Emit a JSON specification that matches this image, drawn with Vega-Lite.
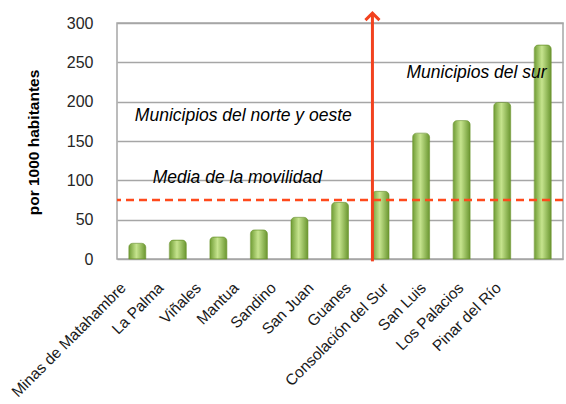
{
  "$schema": "https://vega.github.io/schema/vega-lite/v6.json",
  "width": 446,
  "height": 236,
  "autosize": {"type": "none"},
  "padding": {"left": 117, "top": 23, "right": 3, "bottom": 145},
  "background": "white",
  "config": {
    "view": {"stroke": "#a6a6a6", "strokeWidth": 1.5},
    "font": "Liberation Sans",
    "axisY": {
      "grid": true,
      "gridColor": "#a6a6a6",
      "gridWidth": 1.5,
      "domain": false,
      "ticks": false,
      "labelPadding": 24,
      "labelFontSize": 16,
      "labelColor": "#262626",
      "labelOverlap": false,
      "titleFontSize": 15.5,
      "titleFontWeight": "bold",
      "titleColor": "#000000",
      "titleX": -84,
      "titleY": 119,
      "titleAngle": -90,
      "titleAlign": "center",
      "titleBaseline": "middle"
    }
  },
  "datasets": {
    "movilidad": [
      {"municipio": "Minas de Matahambre", "valor": 20},
      {"municipio": "La Palma", "valor": 24},
      {"municipio": "Viñales", "valor": 28},
      {"municipio": "Mantua", "valor": 37},
      {"municipio": "Sandino", "valor": 53},
      {"municipio": "San Juan", "valor": 72},
      {"municipio": "Guanes", "valor": 86},
      {"municipio": "Consolación del Sur", "valor": 160},
      {"municipio": "San Luis", "valor": 176},
      {"municipio": "Los Palacios", "valor": 199},
      {"municipio": "Pinar del Río", "valor": 272}
    ],
    "media": [{"media": 75}]
  },
  "layer": [
    {
      "layer": [
        {
          "data": {"name": "movilidad"},
          "mark": {
            "type": "bar",
            "width": {"band": 0.42},
            "cornerRadiusEnd": 4,
            "stroke": "#6b962f",
            "strokeWidth": 0.6,
            "color": {
              "gradient": "linear",
              "x1": 0, "y1": 0, "x2": 1, "y2": 0,
              "stops": [
                {"offset": 0, "color": "#6f9c34"},
                {"offset": 0.45, "color": "#c6e48e"},
                {"offset": 1, "color": "#6a9630"}
              ]
            }
          },
          "encoding": {
            "x": {"field": "municipio", "type": "nominal", "sort": null, "scale": {"paddingInner": 0, "paddingOuter": 0}, "axis": null},
            "y": {
              "field": "valor",
              "type": "quantitative",
              "scale": {"domain": [0, 300]},
              "axis": {"values": [0, 50, 100, 150, 200, 250, 300], "title": "por 1000 habitantes"}
            }
          }
        },
        {
          "data": {"name": "media"},
          "mark": {"type": "rule", "color": "#ff4a1c", "strokeWidth": 2.5, "strokeDash": [8, 5]},
          "encoding": {"y": {"field": "media", "type": "quantitative", "axis": {"values": [0, 50, 100, 150, 200, 250, 300], "title": "por 1000 habitantes"}}}
        },
        {
          "data": {"values": [{"a": 1}]},
          "mark": {"type": "rule", "color": "#f2421f", "strokeWidth": 3},
          "encoding": {
            "x": {"datum": "Guanes", "bandPosition": 0.3},
            "y": {"datum": -3, "axis": {"values": [0, 50, 100, 150, 200, 250, 300], "title": "por 1000 habitantes"}},
            "y2": {"datum": 312}
          }
        },
        {
          "data": {"values": [{"a": 1}]},
          "mark": {"type": "point", "shape": "M-1,0.6L0,-0.4L1,0.6", "size": 196, "filled": false, "color": "#f2421f", "strokeWidth": 3, "opacity": 1},
          "encoding": {
            "x": {"datum": "Guanes", "bandPosition": 0.3},
            "y": {"datum": 309, "axis": {"values": [0, 50, 100, 150, 200, 250, 300], "title": "por 1000 habitantes"}}
          }
        },
        {
          "data": {"values": [{"texto": "Municipios del norte y oeste"}]},
          "mark": {"type": "text", "align": "left", "baseline": "middle", "fontStyle": "italic", "fontSize": 17.5, "color": "#000000"},
          "encoding": {
            "x": {"datum": "Minas de Matahambre", "bandPosition": 0.44},
            "y": {"datum": 182, "axis": {"values": [0, 50, 100, 150, 200, 250, 300], "title": "por 1000 habitantes"}},
            "text": {"field": "texto"}
          }
        },
        {
          "data": {"values": [{"texto": "Media de la movilidad"}]},
          "mark": {"type": "text", "align": "left", "baseline": "middle", "fontStyle": "italic", "fontSize": 17.5, "color": "#000000"},
          "encoding": {
            "x": {"datum": "Minas de Matahambre", "bandPosition": 0.88},
            "y": {"datum": 103, "axis": {"values": [0, 50, 100, 150, 200, 250, 300], "title": "por 1000 habitantes"}},
            "text": {"field": "texto"}
          }
        },
        {
          "data": {"values": [{"texto": "Municipios del sur"}]},
          "mark": {"type": "text", "align": "left", "baseline": "middle", "fontStyle": "italic", "fontSize": 17.5, "color": "#000000"},
          "encoding": {
            "x": {"datum": "Consolación del Sur", "bandPosition": 0.14},
            "y": {"datum": 236, "axis": {"values": [0, 50, 100, 150, 200, 250, 300], "title": "por 1000 habitantes"}},
            "text": {"field": "texto"}
          }
        }
      ]
    },
    {
      "data": {"name": "movilidad"},
      "mark": {"type": "tick", "opacity": 0},
      "encoding": {
        "x": {
          "field": "municipio",
          "type": "nominal",
          "sort": null,
          "scale": {"paddingInner": 0, "paddingOuter": 0.446},
          "axis": {
            "orient": "bottom",
            "title": null,
            "labelAngle": -45,
            "labelFontSize": 15.5,
            "labelColor": "#1a1a1a",
            "labelOffset": -34,
            "labelPadding": 21,
            "ticks": false,
            "domain": false
          }
        }
      }
    }
  ],
  "resolve": {"scale": {"x": "independent"}, "axis": {"x": "independent"}}
}
